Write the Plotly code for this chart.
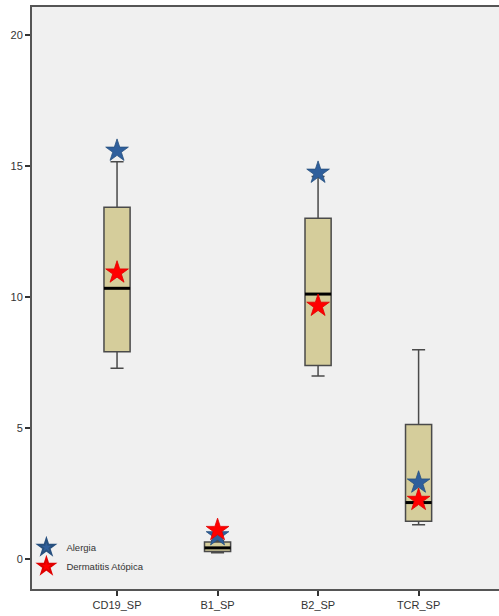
import plotly.graph_objects as go

# Categories and box statistics
categories = ["CD19_SP", "B1_SP", "B2_SP", "TCR_SP"]
lower_fence = [7.28, 0.23, 6.98, 1.30]
q1 = [7.91, 0.28, 7.38, 1.44]
median = [10.33, 0.42, 10.11, 2.15]
q3 = [13.42, 0.64, 13.00, 5.13]
upper_fence = [15.16, 0.70, 14.60, 7.98]

# Group means drawn as stars
alergia = [15.58, 0.90, 14.74, 2.91]
dermatitis = [10.93, 1.10, 9.66, 2.25]

positions = list(range(len(categories)))
box_width = 0.26

fig = go.Figure()

fig.add_trace(go.Box(
    x=positions, q1=q1, median=median, q3=q3,
    lowerfence=lower_fence, upperfence=upper_fence,
    width=box_width, whiskerwidth=0.5,
    fillcolor="#d5cd9b", line=dict(color="#4a4a4a", width=1.5),
    showlegend=False, hoverinfo="skip", boxpoints=False,
))

# Thicker median bars
for x, m in zip(positions, median):
    fig.add_trace(go.Scatter(
        x=[x - box_width / 2, x + box_width / 2], y=[m, m], mode="lines",
        line=dict(color="#000000", width=3), showlegend=False, hoverinfo="skip",
    ))

fig.add_trace(go.Scatter(
    x=positions, y=alergia, mode="markers", name="Alergia",
    marker=dict(symbol="star", size=17, color="#2f5f9c",
                line=dict(color="#27507f", width=0.8)),
))
fig.add_trace(go.Scatter(
    x=positions, y=dermatitis, mode="markers", name="Dermatitis Atópica",
    marker=dict(symbol="star", size=17, color="#ff0000",
                line=dict(color="#e00000", width=0.8)),
))

tick_font = dict(family="Liberation Sans Narrow, Arial Narrow, Liberation Sans, sans-serif",
                 size=11, color="#333333")

fig.update_layout(
    width=499, height=616,
    margin=dict(l=32, r=0, t=7, b=27),
    paper_bgcolor="#ffffff", plot_bgcolor="#f0f0f0",
    xaxis=dict(
        range=[-0.846, 3.80], tickvals=positions, ticktext=categories,
        showgrid=False, zeroline=False, showline=True, mirror=True,
        linecolor="#555555", linewidth=2,
        ticks="outside", ticklen=5, tickcolor="#333333", tickwidth=1.5,
        tickfont=tick_font,
    ),
    yaxis=dict(
        range=[-1.15, 21.07], tickvals=[0, 5, 10, 15, 20],
        showgrid=False, zeroline=False, showline=True,
        linecolor="#555555", linewidth=2,
        ticks="outside", ticklen=5, tickcolor="#333333", tickwidth=1.5,
        tickfont=tick_font,
    ),
    legend=dict(
        x=-0.012, y=0.014, xanchor="left", yanchor="bottom",
        bgcolor="rgba(0,0,0,0)", itemsizing="constant",
        font=dict(family="Liberation Sans Narrow, Arial Narrow, sans-serif",
                  size=9.5, color="#333333"),
        tracegroupgap=0,
    ),
)

fig.write_html("out.html")
